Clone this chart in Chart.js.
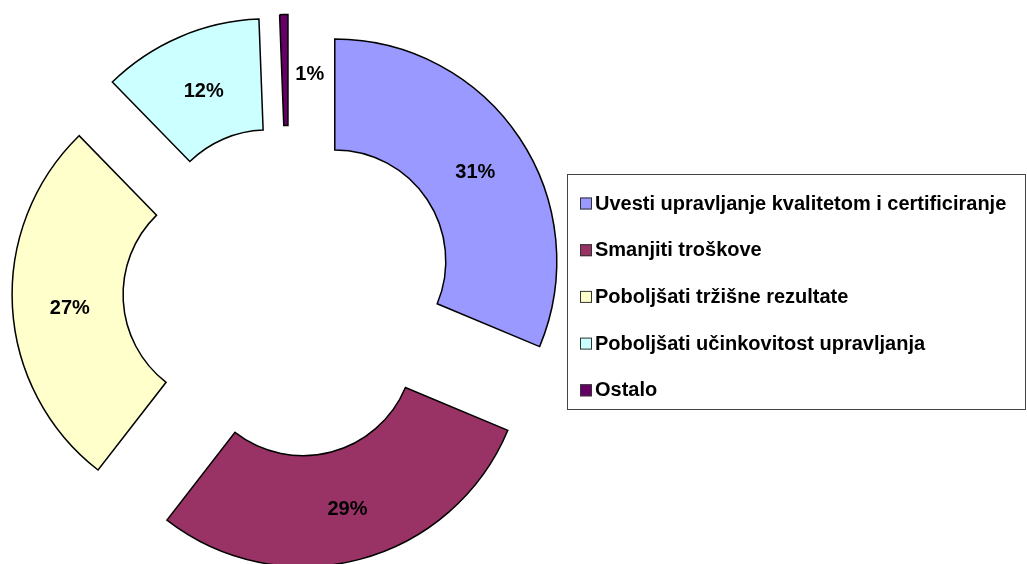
<!DOCTYPE html>
<html><head><meta charset="utf-8">
<style>html,body{margin:0;padding:0;background:#fff;overflow:hidden}#wrap{width:1027px;height:564px;position:relative}</style>
<script src="https://cdn.jsdelivr.net/npm/chart.js@4.4.1/dist/chart.umd.min.js"></script>
</head><body><div id="wrap"><canvas id="c" width="1027" height="564"></canvas></div>
<script>
const categories = ['Uvesti upravljanje kvalitetom i certificiranje','Smanjiti troškove','Poboljšati tržišne rezultate','Poboljšati učinkovitost upravljanja','Ostalo'];
const shares = [31.3, 29.2, 27.2, 11.7, 0.6];
const colors = ['#9999FF','#993366','#FFFFCC','#CCFFFF','#660066'];

const FONT = 'bold 20px "Liberation Sans", Arial, sans-serif';
const EXPLODE = 55;

const explodePlugin = {
  id: 'explode',
  beforeDatasetDraw(chart, args) {
    const ctx = chart.ctx;
    args.meta.data.forEach(arc => {
      const mid = (arc.startAngle + arc.endAngle) / 2;
      ctx.save();
      ctx.translate(Math.cos(mid) * EXPLODE, Math.sin(mid) * EXPLODE);
      arc.draw(ctx);
      ctx.restore();
    });
    return false;
  }
};

const labelPlugin = {
  id: 'pctLabels',
  afterDatasetsDraw(chart) {
    const ctx = chart.ctx;
    const meta = chart.getDatasetMeta(0);
    const total = shares.reduce((a, b) => a + b, 0);
    ctx.save();
    ctx.font = FONT;
    ctx.fillStyle = '#000';
    ctx.textAlign = 'center';
    ctx.textBaseline = 'middle';
    meta.data.forEach((arc, i) => {
      const mid = (arc.startAngle + arc.endAngle) / 2;
      const rr = EXPLODE + (arc.innerRadius + arc.outerRadius) / 2;
      let x = arc.x + Math.cos(mid) * rr + 2;
      let y = arc.y + Math.sin(mid) * rr + 4;
      if (arc.endAngle - arc.startAngle < 0.1) { x += 23; }
      ctx.fillText(Math.round(shares[i] / total * 100) + '%', x, y);
    });
    ctx.restore();
  }
};

const legendPlugin = {
  id: 'boxLegend',
  afterDraw(chart) {
    const ctx = chart.ctx;
    ctx.save();
    ctx.strokeStyle = '#444';
    ctx.lineWidth = 1;
    ctx.strokeRect(567.5, 174.5, 458, 235);
    ctx.font = FONT;
    ctx.textAlign = 'left';
    ctx.textBaseline = 'alphabetic';
    categories.forEach((name, i) => {
      const base = 209.5 + 46.7 * i;
      ctx.fillStyle = colors[i];
      ctx.fillRect(580, base - 12, 12, 12);
      ctx.strokeStyle = '#333';
      ctx.strokeRect(580.5, base - 11.5, 11, 11);
      ctx.fillStyle = '#000';
      ctx.fillText(name, 595, base);
    });
    ctx.restore();
  }
};

new Chart(document.getElementById('c'), {
  type: 'doughnut',
  data: {
    labels: categories,
    datasets: [{
      data: shares,
      backgroundColor: colors,
      borderColor: '#000',
      borderWidth: 1.5,
      borderJoinStyle: 'miter'
    }]
  },
  options: {
    responsive: false,
    animation: false,
    events: [],
    radius: 222,
    cutout: '50%',
    rotation: 0,
    layout: { padding: { top: 19, left: 0, right: 449, bottom: 0 } },
    plugins: { legend: { display: false }, tooltip: { enabled: false } }
  },
  plugins: [explodePlugin, labelPlugin, legendPlugin]
});
</script></body></html>
